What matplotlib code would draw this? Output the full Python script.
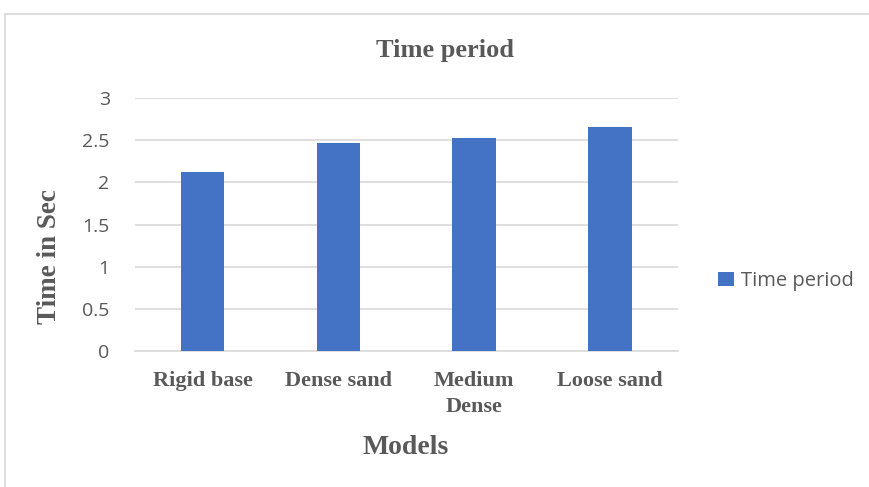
import matplotlib.pyplot as plt
from matplotlib.patches import Rectangle

# data
models = ['Rigid base', 'Dense sand', 'Medium\nDense', 'Loose sand']
time_period = [2.12, 2.46, 2.53, 2.65]
y_ticks = [0, 0.5, 1, 1.5, 2, 2.5, 3]
y_tick_labels = ['0', '0.5', '1', '1.5', '2', '2.5', '3']

bar_color = '#4472C4'
text_gray = '#595959'
serif = ['Liberation Serif', 'DejaVu Serif']
sans = ['Open Sans', 'DejaVu Sans']

fig = plt.figure(figsize=(8.69, 4.87), dpi=100)
ax = fig.add_axes([0.155, 0.279, 0.625, 0.520])

x = range(len(models))
ax.bar(x, time_period, width=0.32, color=bar_color, label='Time period', zorder=3)

ax.set_xlim(-0.5, len(models) - 0.5)
ax.set_ylim(0, 3)
ax.set_yticks(y_ticks)
ax.set_yticklabels(y_tick_labels, family=sans, fontsize=14, color=text_gray)
ax.set_xticks(list(x))
ax.set_xticklabels(models, family=serif, fontsize=16, fontweight='bold',
                   color=text_gray, linespacing=1.4)
ax.tick_params(axis='both', length=0)
ax.tick_params(axis='y', pad=18)
ax.tick_params(axis='x', pad=14)

ax.grid(axis='y', color='#d9d9d9', linewidth=1.2, zorder=0)
for side in ['top', 'right', 'left']:
    ax.spines[side].set_visible(False)
ax.spines['bottom'].set_color('#d9d9d9')
ax.spines['bottom'].set_linewidth(1.2)

fig.text(445 / 869, 1 - 50 / 487, 'Time period', family=serif, fontsize=19,
         fontweight='bold', color=text_gray, ha='center', va='center')
fig.text(406 / 869, 1 - 447 / 487, 'Models', family=serif, fontsize=20,
         fontweight='bold', color=text_gray, ha='center', va='center')
fig.text(50 / 869, 1 - 257 / 487, 'Time in Sec', family=serif, fontsize=19.5,
         fontweight='bold', color=text_gray, ha='center', va='center',
         rotation=90)

leg = ax.legend(loc='center left', bbox_to_anchor=(1.06, 0.277), frameon=False,
                prop={'family': sans, 'size': 14.5}, handlelength=0.75,
                handleheight=0.75, handletextpad=0.35, borderaxespad=0)
for t in leg.get_texts():
    t.set_color(text_gray)

# light frame around the chart area
fig.patches.append(Rectangle((5 / 869, -0.1), 1.0, 1 - 14 / 487 + 0.1,
                             transform=fig.transFigure, fill=False,
                             edgecolor='#d9d9d9', linewidth=1.2))

fig.savefig('out.png', dpi=100)
